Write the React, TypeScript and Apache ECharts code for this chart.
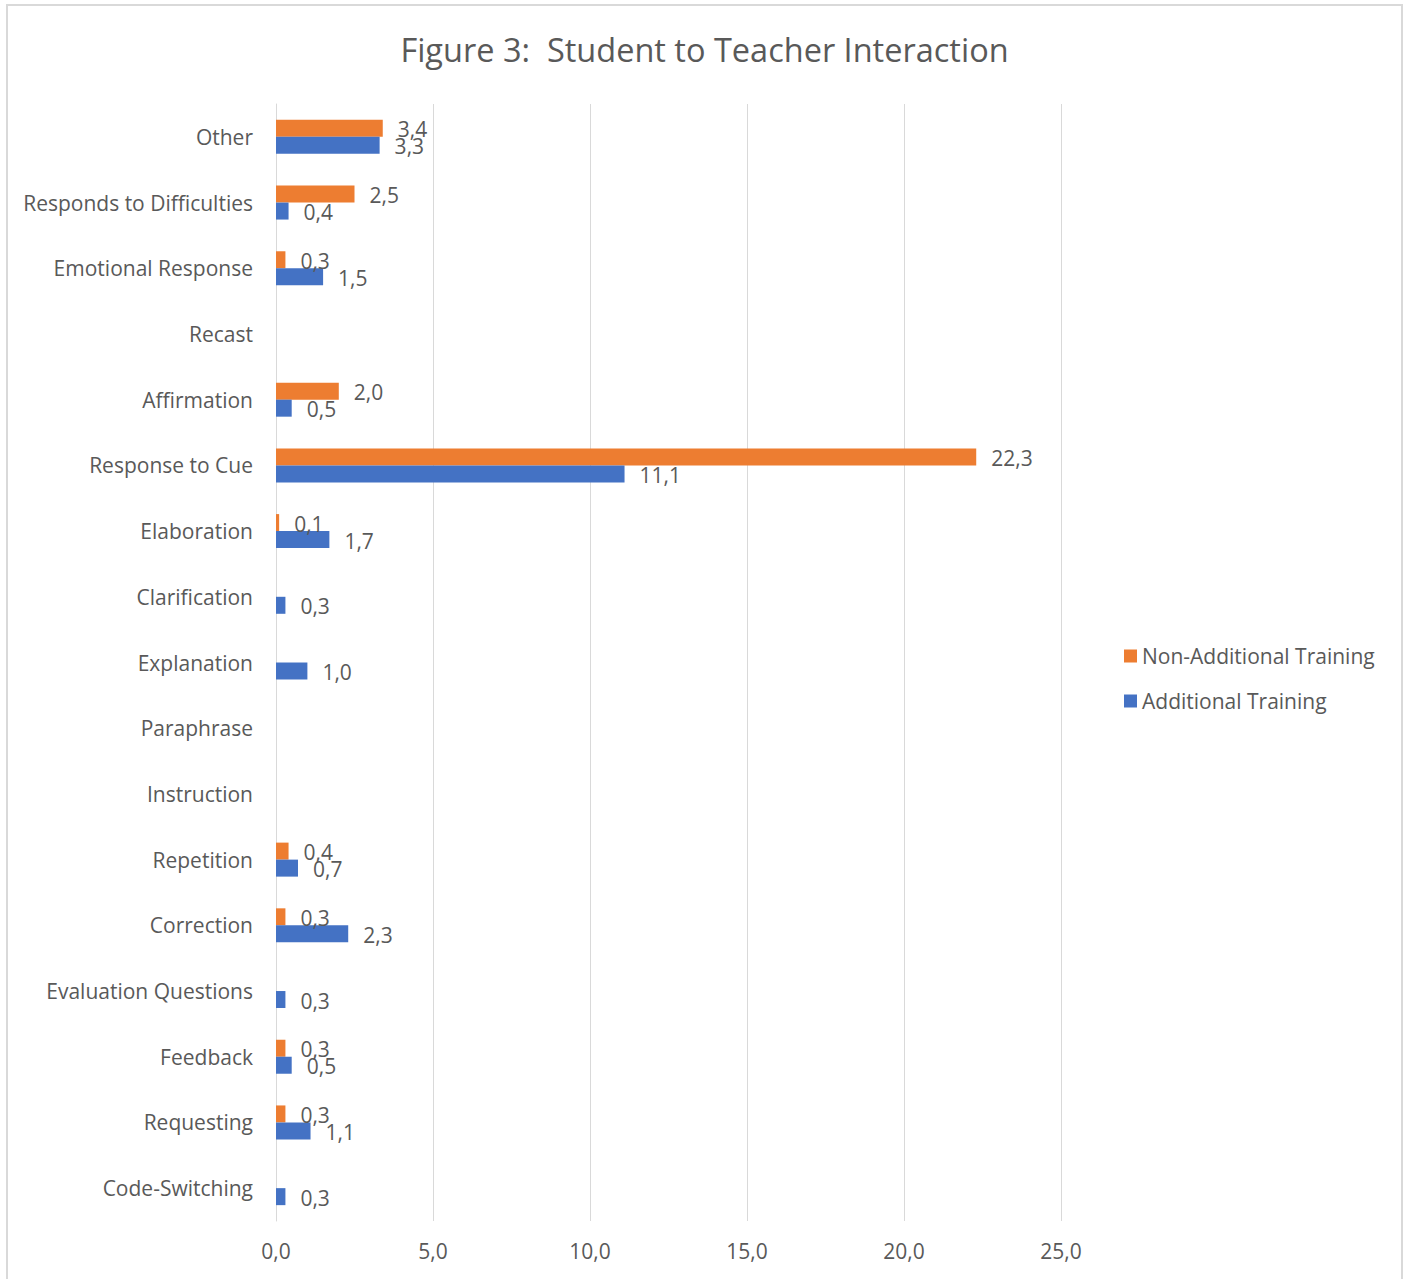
import React, { useEffect, useRef } from "react";
import * as echarts from "echarts";

const categories = [
  "Other",
  "Responds to Difficulties",
  "Emotional Response",
  "Recast",
  "Affirmation",
  "Response to Cue",
  "Elaboration",
  "Clarification",
  "Explanation",
  "Paraphrase",
  "Instruction",
  "Repetition",
  "Correction",
  "Evaluation Questions",
  "Feedback",
  "Requesting",
  "Code-Switching",
];

const nonAdditional: (number | null)[] = [
  3.4, 2.5, 0.3, null, 2.0, 22.3, 0.1, null, null, null, null, 0.4, 0.3, null, 0.3, 0.3, null,
];

const additional: (number | null)[] = [
  3.3, 0.4, 1.5, null, 0.5, 11.1, 1.7, 0.3, 1.0, null, null, 0.7, 2.3, 0.3, 0.5, 1.1, 0.3,
];

const xTicks = { min: 0, max: 25, interval: 5 };

const fmt = (v: number) => v.toFixed(1).replace(".", ",");

const FONT = "'Open Sans', sans-serif";
const GREY = "#595959";
const FS = 21;

export default function App() {
  const ref = useRef<HTMLDivElement>(null);
  useEffect(() => {
    document.body.style.margin = "0";
    const chart = echarts.init(ref.current!, null, { renderer: "svg" });
    const label = {
      show: true,
      position: "right",
      distance: 15,
      offset: [0, 1],
      color: GREY,
      fontSize: FS,
      fontFamily: FONT,
      formatter: (p: any) => fmt(p.value),
    };
    chart.setOption({
      animation: false,
      backgroundColor: "#ffffff",
      title: {
        text: "Figure 3:  Student to Teacher Interaction",
        left: "center",
        top: 28,
        textStyle: { color: GREY, fontSize: 32.5, fontWeight: "normal", fontFamily: FONT },
      },
      legend: {
        orient: "vertical",
        left: 1119,
        top: 639,
        itemWidth: 13,
        itemHeight: 13,
        itemGap: 21,
        icon: "rect",
        textStyle: { color: GREY, fontSize: FS, fontFamily: FONT, lineHeight: 24 },
        data: ["Non-Additional Training", "Additional Training"],
      },
      graphic: [
        {
          type: "rect",
          shape: { x: 7, y: 5, width: 1395, height: 1300 },
          style: { fill: "none", stroke: "#d9d9d9", lineWidth: 2 },
        },
      ],
      grid: { left: 276, width: 785, top: 104, height: 1117 },
      xAxis: {
        type: "value",
        min: xTicks.min,
        max: xTicks.max,
        interval: xTicks.interval,
        axisLine: { show: false },
        axisTick: { show: false },
        splitLine: { lineStyle: { color: "#d9d9d9", width: 1 } },
        axisLabel: {
          color: GREY,
          fontSize: FS,
          fontFamily: FONT,
          margin: 19,
          formatter: (v: number) => fmt(v),
        },
      },
      yAxis: {
        type: "category",
        data: categories,
        inverse: true,
        axisLine: { show: true, lineStyle: { color: "#d9d9d9", width: 1 } },
        axisTick: { show: false },
        axisLabel: { color: GREY, fontSize: FS, fontFamily: FONT, margin: 23 },
      },
      series: [
        {
          name: "Non-Additional Training",
          type: "bar",
          data: nonAdditional,
          barWidth: 17,
          barGap: "0%",
          itemStyle: { color: "#ed7d31" },
          label,
        },
        {
          name: "Additional Training",
          type: "bar",
          data: additional,
          barWidth: 17,
          barGap: "0%",
          itemStyle: { color: "#4472c4" },
          label,
        },
      ],
    });
    return () => chart.dispose();
  }, []);
  return <div ref={ref} style={{ width: 1409, height: 1279 }} />;
}
